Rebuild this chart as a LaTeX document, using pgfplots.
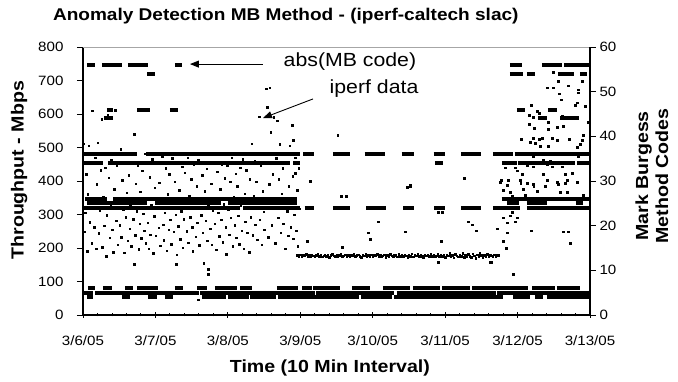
\documentclass[border=0pt]{standalone}
\usepackage{fontspec}
\setmainfont{Liberation Sans}[FakeStretch=1.12]
\usepackage{pgfplots}
\pgfplotsset{compat=1.18}
\usetikzlibrary{arrows.meta}
\newcommand{\tickfont}{\fontsize{13.5}{16}\selectfont}
\newcommand{\labfont}{\fontsize{17.5}{20}\selectfont\bfseries}
\newcommand{\titfont}{\fontsize{17}{20}\selectfont\bfseries}
\newcommand{\annfont}{\fontsize{19}{22}\selectfont}
\tikzset{mb/.style={black, no markers, line width=4pt},
         dots/.style={only marks, mark=square*, mark size=0.75pt, black, mark options={draw=none}}}
\begin{document}
\begin{tikzpicture}
\useasboundingbox (-83pt,-67pt) rectangle (595pt,315pt);
\begin{axis}[
  scale only axis, width=507pt, height=268pt,
  at={(0pt,0pt)}, anchor=south west,
  xmin=0, xmax=7, ymin=0, ymax=800,
  axis x line*=bottom, axis y line*=left,
  axis line style={-, line width=1.1pt},
  xtick={0,1,...,7},
  xticklabels={3/6/05,3/7/05,3/8/05,3/9/05,3/10/05,3/11/05,3/12/05,3/13/05},
  minor x tick num=4,
  ytick={0,100,...,800},
  xtick align=center, ytick align=outside,
  major tick length=6pt, minor tick length=3pt,
  tick style={black, line width=0.9pt},
  tick label style={font=\tickfont},
  xticklabel shift=14pt,
  yticklabel shift=10pt,
  /pgf/number format/assume math mode=true,
  xlabel={Time (10 Min Interval)},
  ylabel={Throughput - Mbps},
  title={Anomaly Detection MB Method - (iperf-caltech slac)},
  xlabel style={at={(axis description cs:0.487,-0.198)}, anchor=center, font=\labfont},
  ylabel style={at={(axis description cs:-0.126,0.54)}, anchor=center, font=\labfont},
  title style={at={(axis description cs:0.40,1.093)}, anchor=center, font=\titfont},
]
\draw[gray!70, line width=0.8pt] (rel axis cs:0,1) -- (rel axis cs:1,1);
% iperf data, 3/6 - 3/9
\addplot[dots] coordinates {
(0.005,512)(0.0175,248)(0.030,305)(0.0425,421)(0.055,190)(0.0675,360)(0.080,505)(0.0925,277)(0.105,455)(0.1175,215)
(0.130,610)(0.1425,338)(0.155,262)(0.1675,470)(0.180,198)(0.1925,390)(0.205,515)(0.2175,244)(0.230,312)(0.2425,432)
(0.255,585)(0.2675,203)(0.280,352)(0.2925,267)(0.305,440)(0.3175,175)(0.330,298)(0.3425,598)(0.355,410)(0.3675,230)
(0.380,325)(0.3925,462)(0.405,255)(0.4175,188)(0.430,375)(0.4425,612)(0.455,282)(0.4675,447)(0.480,210)(0.4925,340)
(0.505,268)(0.5175,495)(0.530,232)(0.5425,402)(0.555,315)(0.5675,186)(0.580,458)(0.5925,292)(0.605,365)(0.6175,222)
(0.630,418)(0.6425,257)(0.655,330)(0.6675,205)(0.680,478)(0.6925,286)(0.705,540)(0.7175,238)(0.730,392)(0.7425,310)
(0.755,445)(0.7675,196)(0.780,272)(0.7925,368)(0.805,229)(0.8175,430)(0.830,302)(0.8425,252)(0.855,482)(0.8675,215)
(0.880,350)(0.8925,275)(0.905,198)(0.9175,412)(0.930,240)(0.9425,328)(0.955,465)(0.9675,184)(0.980,295)(0.9925,380)
(1.005,236)(1.0175,452)(1.030,318)(1.0425,260)(1.055,395)(1.0675,207)(1.080,345)(1.0925,472)(1.105,270)(1.1175,224)
(1.130,305)(1.1425,438)(1.155,192)(1.1675,360)(1.180,255)(1.1925,420)(1.205,285)(1.2175,212)(1.230,468)(1.2425,336)
(1.255,248)(1.2675,398)(1.280,300)(1.2925,180)(1.305,455)(1.3175,265)(1.330,372)(1.3425,227)(1.355,310)(1.3675,442)
(1.380,201)(1.3925,286)(1.405,425)(1.4175,338)(1.430,250)(1.4425,470)(1.455,216)(1.4675,355)(1.480,292)(1.4925,405)
(1.505,262)(1.5175,190)(1.530,448)(1.5425,318)(1.555,234)(1.5675,385)(1.580,276)(1.5925,462)(1.605,208)(1.6175,342)
(1.630,298)(1.6425,418)(1.655,245)(1.6675,155)(1.680,370)(1.6925,282)(1.705,436)(1.7175,222)(1.730,325)(1.7425,480)
(1.755,258)(1.7675,392)(1.780,210)(1.7925,312)(1.805,458)(1.8175,272)(1.830,348)(1.8425,195)(1.855,428)(1.8675,305)
(1.880,235)(1.8925,375)(1.905,285)(1.9175,450)(1.930,218)(1.9425,330)(1.955,408)(1.9675,262)(1.980,182)(1.9925,445)
(2.005,315)(2.0175,240)(2.030,398)(2.0425,290)(2.055,470)(2.0675,206)(2.080,352)(2.0925,268)(2.105,422)(2.1175,230)
(2.130,384)(2.1425,296)(2.155,212)(2.1675,440)(2.180,328)(2.1925,252)(2.205,465)(2.2175,198)(2.230,362)(2.2425,278)
(2.255,432)(2.2675,245)(2.280,318)(2.2925,188)(2.305,405)(2.3175,292)(2.330,512)(2.3425,238)(2.355,356)(2.3675,460)
(2.380,270)(2.3925,398)(2.405,225)(2.4175,340)(2.430,592)(2.4425,285)(2.455,445)(2.4675,210)(2.480,370)(2.4925,308)
(2.505,255)(2.5175,478)(2.530,675)(2.5425,620)(2.555,232)(2.5675,390)(2.580,678)(2.5925,545)(2.605,268)(2.6175,420)
(2.630,590)(2.6425,348)(2.655,215)(2.6675,468)(2.680,580)(2.6925,290)(2.705,405)(2.7175,510)(2.730,245)(2.7425,362)
(2.755,438)(2.7675,272)(2.780,322)(2.7925,198)(2.805,452)(2.8175,310)(2.830,236)(2.8425,385)(2.855,505)(2.8675,262)
(2.880,345)(2.8925,415)(2.905,228)(2.9175,300)(2.930,470)(2.9425,252)(2.955,372)(2.9675,205)(2.980,438)(2.9925,318)
(0.704,152)(1.284,152)(1.726,137)(1.726,122)(1.588,45)
};
% iperf data, 3/9 - 3/11 (flat part)
\addplot[dots] coordinates {
(2.96,178)(2.98,176)(3.00,180)(3.02,175)(3.04,179)(3.06,177)(3.08,181)(3.10,174)(3.12,178)(3.14,176)
(3.16,180)(3.18,177)(3.20,175)(3.22,179)(3.24,182)(3.26,176)(3.28,178)(3.30,174)(3.32,177)(3.34,180)
(3.36,176)(3.38,179)(3.40,173)(3.42,178)(3.44,181)(3.46,177)(3.48,175)(3.50,179)(3.52,176)(3.54,178)
(3.56,182)(3.58,175)(3.60,177)(3.62,180)(3.64,174)(3.66,178)(3.68,176)(3.70,179)(3.72,177)(3.74,181)
(3.76,175)(3.78,178)(3.80,180)(3.82,176)(3.84,173)(3.86,179)(3.88,177)(3.90,182)(3.92,175)(3.94,178)
(3.96,176)(3.98,180)(4.00,174)(4.02,178)(4.04,177)(4.06,181)(4.08,176)(4.10,179)(4.12,175)(4.14,177)
(4.16,180)(4.18,173)(4.20,178)(4.22,176)(4.24,182)(4.26,177)(4.28,175)(4.30,179)(4.32,178)(4.34,174)
(4.36,181)(4.38,176)(4.40,178)(4.42,175)(4.44,180)(4.46,177)(4.48,172)(4.50,179)(4.52,176)(4.54,183)
(4.56,174)(4.58,178)(4.60,177)(4.62,181)(4.64,175)(4.66,179)(4.68,176)(4.70,173)(4.72,180)(4.74,177)
(4.76,178)(4.78,175)(4.80,182)(4.82,176)(4.84,179)(4.86,174)(4.88,177)(4.90,181)(4.92,175)(4.94,178)
(4.96,176)(4.98,180)(5.00,173)(5.02,179)(5.04,177)(5.06,184)(5.08,175)(5.10,178)(5.12,171)(5.14,182)
(5.16,177)(5.18,174)(5.20,180)(5.22,176)(5.24,185)(5.26,172)(5.28,179)(5.30,175)(5.32,181)(5.34,176)
(5.36,173)(5.38,183)(5.40,177)(5.42,170)(5.44,180)(5.46,175)(5.48,184)(5.50,178)(5.52,172)(5.54,179)
(5.56,176)(5.58,181)(5.60,174)(5.62,178)(5.64,177)(5.66,175)(5.68,180)(5.70,176)(5.72,179)(5.74,178)
(2.886,567)(2.900,522)(3.520,537)(2.927,424)(3.134,400)(4.515,388)(5.260,409)(3.562,355)(3.631,355)
(4.473,382)(4.520,385)(4.073,278)(3.935,245)(3.962,227)(4.446,248)(3.093,221)(3.576,203)(4.943,221)
(5.315,278)(5.371,269)(5.426,251)(4.901,307)(4.957,307)(4.901,158)(5.619,158)
};
% iperf data, 3/11.7 - 3/13
\addplot[dots] coordinates {
(6.489,725)(6.558,698)(6.889,698)(6.406,678)(6.489,678)(6.696,684)(6.834,672)(6.834,663)(6.572,660)
(6.599,642)(6.820,633)(6.793,627)(6.931,624)(6.185,627)(6.268,609)(6.296,603)(6.158,597)(6.213,591)
(6.613,594)(6.420,576)(6.158,570)(6.227,558)(6.420,555)(6.544,561)(6.627,564)(6.972,576)(6.047,525)
(6.213,528)(6.296,525)(6.337,528)(6.475,528)(6.544,522)(6.710,525)(6.903,537)(6.172,516)(6.241,513)
(6.310,504)(6.420,504)(6.862,510)(6.889,522)(6.820,501)(6.213,472)(6.351,463)(6.448,460)(6.834,472)
(5.826,439)(5.964,439)(5.992,430)(6.061,421)(6.130,445)(6.213,442)(6.406,448)(6.475,442)(6.613,442)
(6.655,421)(6.751,424)(5.771,403)(5.868,403)(6.351,421)(6.406,403)(6.544,397)(6.033,403)(6.213,391)
(6.682,403)(6.820,397)(5.757,397)(5.854,388)(6.040,394)(6.130,394)(6.220,385)(6.379,385)(6.558,391)
(6.655,394)(5.799,373)(5.895,367)(6.075,376)(6.268,370)(6.586,367)(6.682,367)(5.923,355)(6.102,358)
(6.903,358)(5.826,349)(5.923,307)(5.895,296)(5.799,290)(5.964,278)(5.992,290)(5.854,275)(5.716,257)
(5.854,245)(6.185,251)(6.627,248)(6.696,248)(5.799,221)(6.724,215)(5.840,200)(5.633,158)(5.937,122)
};
% annotations
\draw[black, line width=0.9pt, -{Triangle[length=9pt,width=7pt]}] (axis cs:2.485,749) -- (axis cs:1.477,749);
\draw[black, line width=0.9pt, -{Triangle[length=9pt,width=7pt]}] (axis cs:3.176,645) -- (axis cs:2.485,588);
\node[font=\annfont, anchor=center] at (axis cs:3.686,757) {abs(MB code)};
\node[font=\annfont, anchor=center] at (axis cs:4.018,677) {iperf data};
\end{axis}
\begin{axis}[
  scale only axis, width=507pt, height=268pt,
  at={(0pt,0pt)}, anchor=south west,
  xmin=0, xmax=7, ymin=0, ymax=60,
  axis y line*=right, axis x line=none,
  axis line style={-, line width=1.1pt},
  ytick={0,10,...,60}, ytick align=outside,
  major tick length=6pt,
  tick style={black, line width=0.9pt},
  tick label style={font=\tickfont},
  /pgf/number format/assume math mode=true,
  unbounded coords=jump,
  ylabel={Mark Burgess\\Method Codes},
  ylabel style={align=center, at={(axis description cs:1.122,0.519)}, anchor=center, font=\labfont},
]
\addplot[mb] coordinates {(0.055,56)(0.166,56)(0.2,nan)(0.262,56)(0.538,56)(0.6,nan)(0.621,56)(0.897,56)(1,nan)(1.27,56)(1.367,56)(2,nan)(5.895,56)(6.061,56)(6.1,nan)(6.337,56)(6.613,56)(6.62,nan)(6.641,56)(7,56)};
\addplot[mb] coordinates {(0.884,54)(0.994,54)(1,nan)(5.895,54)(6.075,54)(6.1,nan)(6.13,54)(6.24,54)(6.3,nan)(6.558,54)(6.779,54)(6.8,nan)(6.862,54)(6.958,54)};
\addplot[mb] coordinates {(0.331,46)(0.414,46)(0.5,nan)(0.746,46)(0.925,46)(1,nan)(1.201,46)(1.312,46)(2,nan)(5.99,46)(6.10,46)(6.2,nan)(6.42,46)(6.54,46)};
\addplot[mb] coordinates {(0.29,44)(0.414,44)(1,nan)(6.28,44)(6.41,44)(6.5,nan)(6.59,44)(6.85,44)};
\addplot[mb] coordinates {(0,36)(0.746,36)(0.8,nan)(0.87,36)(3.0,36)(3.02,nan)(3.04,36)(3.19,36)(3.3,nan)(3.45,36)(3.69,36)(3.8,nan)(3.89,36)(4.17,36)(4.3,nan)(4.40,36)(4.57,36)(4.7,nan)(4.84,36)(5.0,36)(5.1,nan)(5.22,36)(5.50,36)(5.6,nan)(5.66,36)(5.94,36)(5.95,nan)(5.96,36)(7,36)};
\addplot[mb] coordinates {(0,34)(0.276,34)(0.3,nan)(0.345,34)(2.858,34)(2.88,nan)(2.90,34)(3.0,34)(3.5,nan)(4.86,34)(4.97,34)(5.5,nan)(5.785,34)(5.99,34)(5.995,nan)(6.0,34)(6.79,34)(6.8,nan)(6.82,34)(7,34)};
\addplot[mb] coordinates {(0.03,26)(0.33,26)(0.36,nan)(0.42,26)(2.96,26)(3.5,nan)(5.78,26)(7,26)};
\addplot[mb] coordinates {(0.06,25)(0.88,25)(0.9,nan)(1.0,25)(1.9,25)(1.95,nan)(2.0,25)(2.95,25)(3.5,nan)(5.86,25)(6.02,25)(6.05,nan)(6.13,25)(6.4,25)(6.5,nan)(6.8,25)(6.9,25)};
\addplot[mb] coordinates {(0,24)(2.17,24)(2.19,nan)(2.21,24)(3.0,24)(3.03,nan)(3.06,24)(3.19,24)(3.3,nan)(3.45,24)(3.69,24)(3.8,nan)(3.91,24)(4.18,24)(4.3,nan)(4.42,24)(4.57,24)(4.7,nan)(4.85,24)(5.0,24)(5.1,nan)(5.22,24)(5.50,24)(5.6,nan)(5.66,24)(6.03,24)(6.05,nan)(6.13,24)(7,24)};
\addplot[mb] coordinates {(0.069,6)(0.166,6)(0.2,nan)(0.276,6)(0.400,6)(0.5,nan)(0.58,6)(0.69,6)(0.7,nan)(0.746,6)(1.035,6)(1.1,nan)(1.27,6)(1.38,6)(1.5,nan)(1.574,6)(1.712,6)(1.75,nan)(1.822,6)(2.126,6)(2.15,nan)(2.168,6)(2.333,6)(2.5,nan)(2.678,6)(2.968,6)(3.0,nan)(3.024,6)(3.162,6)(3.17,nan)(3.175,6)(3.548,6)(3.6,nan)(3.714,6)(3.962,6)(4.0,nan)(4.142,6)(4.515,6)(4.53,nan)(4.556,6)(4.929,6)(4.94,nan)(4.957,6)(5.343,6)(5.36,nan)(5.371,6)(6.14,6)(6.17,nan)(6.2,6)(6.52,6)(6.53,nan)(6.54,6)(6.86,6)};
\addplot[mb] coordinates {(0,5)(0.14,5)(0.15,nan)(0.16,5)(1.60,5)(1.61,nan)(1.62,5)(3.20,5)(3.21,nan)(3.22,5)(4.30,5)(4.31,nan)(4.33,5)(5.70,5)(5.71,nan)(5.72,5)(7,5)};
\addplot[mb] coordinates {(0.055,4)(0.14,4)(0.3,nan)(0.54,4)(0.65,4)(0.7,nan)(0.9,4)(1.02,4)(1.1,nan)(1.13,4)(1.24,4)(1.5,nan)(1.64,4)(1.98,4)(1.99,nan)(2.0,4)(2.29,4)(2.30,nan)(2.31,4)(2.67,4)(2.68,nan)(2.69,4)(3.81,4)(3.82,nan)(3.84,4)(4.27,4)(4.28,nan)(4.30,4)(5.80,4)(5.85,nan)(5.94,4)(6.17,4)(6.2,nan)(6.24,4)(6.35,4)(6.37,nan)(6.40,4)(7,4)};
\end{axis}
\end{tikzpicture}
\end{document}
